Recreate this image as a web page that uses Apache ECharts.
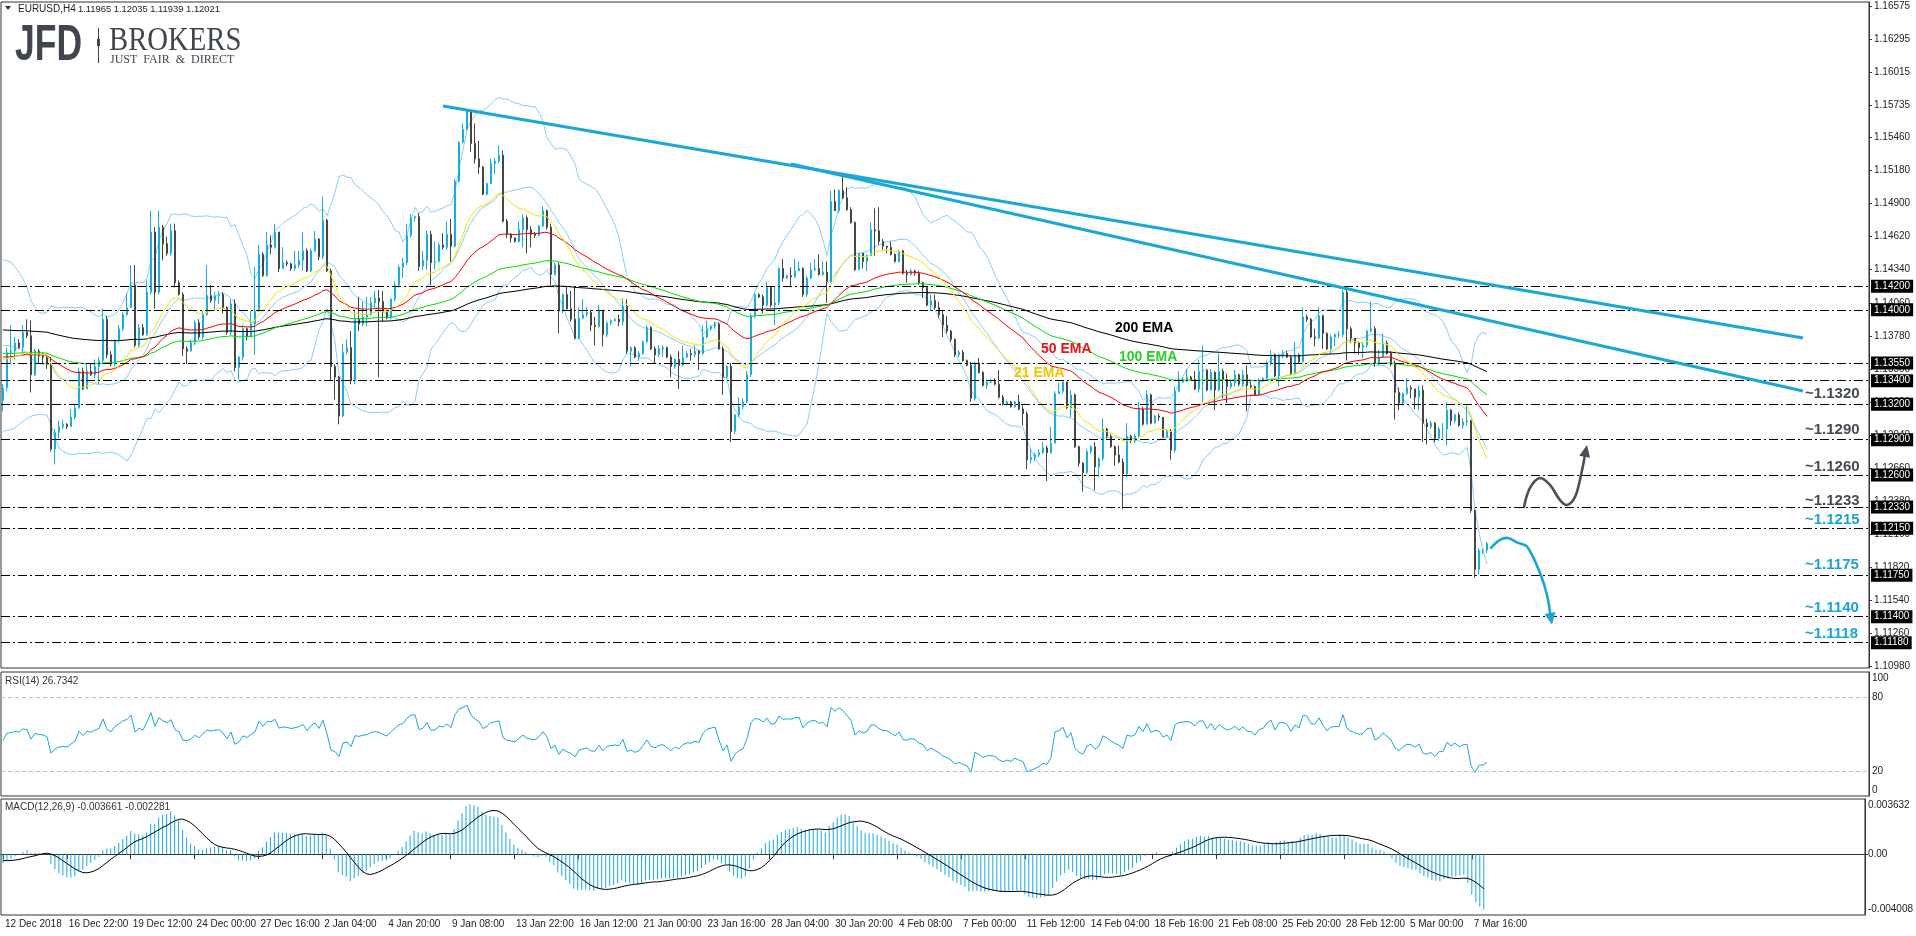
<!DOCTYPE html>
<html><head><meta charset="utf-8">
<script src="https://cdn.jsdelivr.net/npm/echarts@6/dist/echarts.min.js"></script>
<style>html,body{margin:0;padding:0;background:#fff;overflow:hidden}#chart{width:1916px;height:936px}</style>
</head><body><div id="chart"></div>
<script>
// ---------- data ----------
const tickLabels = ['12 Dec 2018','16 Dec 22:00','19 Dec 12:00','24 Dec 00:00','27 Dec 16:00','2 Jan 04:00','4 Jan 20:00','9 Jan 08:00','13 Jan 22:00','16 Jan 12:00','21 Jan 00:00','23 Jan 16:00','28 Jan 04:00','30 Jan 20:00','4 Feb 08:00','7 Feb 00:00','11 Feb 12:00','14 Feb 04:00','18 Feb 16:00','21 Feb 08:00','25 Feb 20:00','28 Feb 12:00','5 Mar 00:00','7 Mar 16:00'];
const barsPerLabel = 16;
const firstOpen = 1.1323;
const closes = [1.1334,1.1364,1.1365,1.1372,1.1368,1.1381,1.1378,1.1345,1.1365,1.1361,
1.1360,1.1354,1.1282,1.1296,1.1301,1.1303,1.1301,1.1309,1.1317,1.1348,
1.1333,1.1348,1.1345,1.1352,1.1357,1.1392,1.1362,1.1354,1.1374,1.1384,
1.1396,1.1402,1.1421,1.1370,1.1385,1.1379,1.1415,1.1466,1.1415,1.1470,
1.1456,1.1448,1.1467,1.1423,1.1413,1.1367,1.1365,1.1372,1.1389,1.1377,
1.1396,1.1412,1.1408,1.1412,1.1413,1.1402,1.1381,1.1405,1.1351,1.1360,
1.1384,1.1377,1.1388,1.1399,1.1447,1.1429,1.1455,1.1453,1.1466,1.1435,
1.1440,1.1439,1.1435,1.1438,1.1442,1.1450,1.1433,1.1450,1.1460,1.1445,
1.1476,1.1433,1.1352,1.1343,1.1310,1.1364,1.1368,1.1340,1.1392,1.1388,
1.1394,1.1396,1.1406,1.1410,1.1407,1.1399,1.1393,1.1409,1.1421,1.1436,
1.1440,1.1463,1.1478,1.1479,1.1437,1.1442,1.1464,1.1440,1.1441,1.1455,
1.1453,1.1464,1.1454,1.1509,1.1542,1.1553,1.1568,1.1541,1.1528,1.1521,
1.1498,1.1507,1.1524,1.1526,1.1531,1.1475,1.1464,1.1461,1.1458,1.1468,
1.1478,1.1468,1.1464,1.1463,1.1471,1.1484,1.1470,1.1430,1.1438,1.1399,
1.1413,1.1401,1.1392,1.1376,1.1393,1.1396,1.1398,1.1387,1.1386,1.1399,
1.1379,1.1389,1.1391,1.1392,1.1390,1.1403,1.1365,1.1368,1.1360,1.1363,
1.1373,1.1385,1.1367,1.1362,1.1367,1.1368,1.1360,1.1352,1.1358,1.1353,
1.1360,1.1363,1.1362,1.1365,1.1363,1.1377,1.1384,1.1386,1.1388,1.1367,
1.1343,1.1352,1.1297,1.1311,1.1318,1.1322,1.1345,1.1395,1.1413,1.1411,
1.1404,1.1419,1.1404,1.1406,1.1435,1.1427,1.1429,1.1428,1.1433,1.1435,
1.1413,1.1427,1.1434,1.1435,1.1430,1.1432,1.1424,1.1492,1.1484,1.1501,
1.1495,1.1485,1.1474,1.1434,1.1448,1.1441,1.1446,1.1468,1.1467,1.1458,
1.1454,1.1453,1.1447,1.1441,1.1450,1.1431,1.1430,1.1433,1.1431,1.1423,
1.1419,1.1404,1.1408,1.1402,1.1396,1.1387,1.1382,1.1375,1.1362,1.1364,
1.1357,1.1353,1.1325,1.1355,1.1347,1.1336,1.1339,1.1339,1.1337,1.1326,
1.1320,1.1322,1.1318,1.1322,1.1316,1.1312,1.1273,1.1275,1.1277,1.1279,
1.1283,1.1279,1.1287,1.1329,1.1331,1.1339,1.1317,1.1328,1.1284,1.1270,
1.1262,1.1280,1.1284,1.1267,1.1274,1.1299,1.1293,1.1284,1.1277,1.1271,
1.1261,1.1293,1.1289,1.1293,1.1316,1.1303,1.1328,1.1304,1.1310,1.1309,
1.1292,1.1297,1.1281,1.1331,1.1339,1.1341,1.1343,1.1341,1.1333,1.1348,
1.1349,1.1332,1.1347,1.1332,1.1348,1.1341,1.1335,1.1338,1.1345,1.1337,
1.1345,1.1336,1.1335,1.1328,1.1340,1.1342,1.1355,1.1362,1.1344,1.1362,
1.1363,1.1360,1.1346,1.1362,1.1356,1.1394,1.1392,1.1377,1.1376,1.1395,
1.1380,1.1367,1.1377,1.1379,1.1379,1.1415,1.1384,1.1376,1.1372,1.1368,
1.1370,1.1382,1.1384,1.1355,1.1360,1.1372,1.1363,1.1354,1.1330,1.1321,
1.1329,1.1334,1.1333,1.1326,1.1332,1.1304,1.1301,1.1304,1.1291,1.1299,
1.1299,1.1315,1.1306,1.1311,1.1302,1.1305,1.1306,1.1230,1.1180,1.1196,
1.11965,1.12021];
const highs = [1.1337,1.1368,1.1387,1.1377,1.1375,1.1387,1.1392,1.1391,1.1367,1.1367,
1.1364,1.1362,1.1360,1.1299,1.1306,1.1307,1.1304,1.1316,1.1320,1.1351,
1.1351,1.1355,1.1354,1.1358,1.1360,1.1401,1.1395,1.1365,1.1375,1.1387,
1.1398,1.1414,1.1438,1.1438,1.1388,1.1388,1.1425,1.1484,1.1470,1.1484,
1.1472,1.1462,1.1473,1.1473,1.1425,1.1415,1.1369,1.1375,1.1391,1.1392,
1.1399,1.1438,1.1421,1.1415,1.1416,1.1415,1.1403,1.1409,1.1409,1.1361,
1.1387,1.1385,1.1399,1.1436,1.1455,1.1449,1.1466,1.1463,1.1473,1.1466,
1.1453,1.1442,1.1440,1.1450,1.1450,1.1466,1.1452,1.1452,1.1467,1.1461,
1.1496,1.1477,1.1435,1.1354,1.1344,1.1371,1.1375,1.1382,1.1399,1.1411,
1.1407,1.1411,1.1411,1.1416,1.1417,1.1416,1.1400,1.1410,1.1424,1.1438,
1.1444,1.1473,1.1481,1.1480,1.1482,1.1450,1.1467,1.1467,1.1458,1.1457,
1.1465,1.1475,1.1477,1.1511,1.1543,1.1558,1.1569,1.1569,1.1558,1.1543,
1.1522,1.1508,1.1528,1.1529,1.1539,1.1535,1.1477,1.1465,1.1461,1.1475,
1.1481,1.1480,1.1471,1.1466,1.1472,1.1488,1.1485,1.1473,1.1440,1.1440,
1.1414,1.1420,1.1416,1.1420,1.1402,1.1409,1.1402,1.1400,1.1394,1.1404,
1.1400,1.1390,1.1392,1.1393,1.1396,1.1410,1.1409,1.1369,1.1369,1.1365,
1.1374,1.1387,1.1386,1.1369,1.1370,1.1370,1.1369,1.1362,1.1359,1.1365,
1.1370,1.1365,1.1367,1.1370,1.1366,1.1387,1.1391,1.1387,1.1390,1.1389,
1.1369,1.1353,1.1355,1.1312,1.1326,1.1325,1.1348,1.1397,1.1414,1.1414,
1.1413,1.1424,1.1420,1.1420,1.1436,1.1443,1.1430,1.1436,1.1443,1.1441,
1.1436,1.1429,1.1440,1.1443,1.1447,1.1441,1.1441,1.1501,1.1502,1.1502,
1.1514,1.1504,1.1487,1.1475,1.1448,1.1448,1.1447,1.1474,1.1486,1.1487,
1.1460,1.1454,1.1458,1.1448,1.1451,1.1451,1.1434,1.1435,1.1434,1.1433,
1.1424,1.1420,1.1413,1.1413,1.1407,1.1399,1.1395,1.1383,1.1376,1.1366,
1.1366,1.1358,1.1356,1.1356,1.1359,1.1348,1.1341,1.1342,1.1342,1.1349,
1.1328,1.1323,1.1323,1.1323,1.1328,1.1319,1.1314,1.1282,1.1279,1.1282,
1.1288,1.1285,1.1301,1.1331,1.1338,1.1339,1.1339,1.1332,1.1329,1.1285,
1.1271,1.1282,1.1285,1.1288,1.1275,1.1308,1.1300,1.1295,1.1285,1.1285,
1.1274,1.1304,1.1294,1.1295,1.1322,1.1318,1.1332,1.1329,1.1311,1.1312,
1.1309,1.1299,1.1299,1.1335,1.1348,1.1343,1.1350,1.1344,1.1348,1.1358,
1.1370,1.1350,1.1350,1.1348,1.1363,1.1350,1.1346,1.1340,1.1349,1.1346,
1.1349,1.1353,1.1339,1.1336,1.1342,1.1343,1.1357,1.1366,1.1363,1.1363,
1.1366,1.1365,1.1361,1.1373,1.1363,1.1402,1.1396,1.1393,1.1384,1.1402,
1.1396,1.1381,1.1379,1.1380,1.1382,1.1417,1.1419,1.1386,1.1376,1.1373,
1.1372,1.1383,1.1407,1.1386,1.1366,1.1380,1.1374,1.1365,1.1357,1.1334,
1.1330,1.1342,1.1336,1.1330,1.1336,1.1336,1.1308,1.1306,1.1305,1.1301,
1.1304,1.1322,1.1316,1.1312,1.1313,1.1308,1.1319,1.1307,1.1231,1.1198,
1.1197,1.12035];
const lows = [1.1314,1.1331,1.1354,1.1358,1.1367,1.1364,1.1376,1.1330,1.1344,1.1354,
1.1354,1.1350,1.1280,1.1269,1.1291,1.1299,1.1299,1.1301,1.1307,1.1316,
1.1332,1.1334,1.1344,1.1342,1.1337,1.1354,1.1359,1.1352,1.1352,1.1372,
1.1382,1.1395,1.1402,1.1368,1.1368,1.1378,1.1378,1.1413,1.1401,1.1413,
1.1442,1.1446,1.1446,1.1419,1.1412,1.1361,1.1354,1.1366,1.1370,1.1375,
1.1375,1.1395,1.1406,1.1399,1.1405,1.1397,1.1379,1.1379,1.1348,1.1341,
1.1357,1.1374,1.1377,1.1362,1.1398,1.1428,1.1428,1.1447,1.1452,1.1432,
1.1435,1.1437,1.1433,1.1433,1.1436,1.1433,1.1432,1.1432,1.1449,1.1442,
1.1443,1.1432,1.1340,1.1324,1.1303,1.1309,1.1362,1.1337,1.1337,1.1382,
1.1386,1.1386,1.1395,1.1402,1.1343,1.1390,1.1392,1.1392,1.1407,1.1419,
1.1427,1.1438,1.1461,1.1475,1.1433,1.1434,1.1434,1.1421,1.1434,1.1440,
1.1451,1.1451,1.1441,1.1453,1.1508,1.1541,1.1552,1.1534,1.1524,1.1515,
1.1497,1.1497,1.1507,1.1515,1.1524,1.1474,1.1461,1.1457,1.1457,1.1457,
1.1453,1.1448,1.1453,1.1461,1.1463,1.1470,1.1468,1.1421,1.1429,1.1380,
1.1397,1.1400,1.1390,1.1375,1.1375,1.1392,1.1394,1.1382,1.1370,1.1385,
1.1369,1.1377,1.1387,1.1390,1.1386,1.1387,1.1363,1.1352,1.1359,1.1357,
1.1362,1.1372,1.1366,1.1355,1.1360,1.1360,1.1359,1.1343,1.1350,1.1333,
1.1352,1.1359,1.1357,1.1360,1.1349,1.1362,1.1376,1.1382,1.1384,1.1366,
1.1328,1.1342,1.1288,1.1295,1.1309,1.1316,1.1321,1.1343,1.1393,1.1410,
1.1397,1.1403,1.1402,1.1387,1.1404,1.1424,1.1426,1.1419,1.1427,1.1433,
1.1411,1.1411,1.1426,1.1433,1.1429,1.1429,1.1406,1.1423,1.1484,1.1482,
1.1494,1.1484,1.1473,1.1433,1.1435,1.1435,1.1433,1.1446,1.1446,1.1455,
1.1451,1.1448,1.1446,1.1440,1.1440,1.1430,1.1423,1.1429,1.1429,1.1421,
1.1410,1.1403,1.1399,1.1400,1.1393,1.1377,1.1380,1.1373,1.1360,1.1360,
1.1356,1.1352,1.1322,1.1323,1.1346,1.1335,1.1333,1.1338,1.1336,1.1325,
1.1319,1.1319,1.1317,1.1317,1.1315,1.1302,1.1265,1.1270,1.1272,1.1275,
1.1278,1.1255,1.1278,1.1287,1.1329,1.1329,1.1316,1.1309,1.1283,1.1267,
1.1246,1.1261,1.1278,1.1247,1.1258,1.1272,1.1291,1.1283,1.1268,1.1270,
1.1231,1.1258,1.1287,1.1287,1.1291,1.1302,1.1303,1.1303,1.1304,1.1306,
1.1292,1.1292,1.1273,1.1279,1.1331,1.1338,1.1339,1.1340,1.1332,1.1330,
1.1322,1.1331,1.1345,1.1315,1.1331,1.1325,1.1321,1.1333,1.1335,1.1335,
1.1335,1.1314,1.1333,1.1327,1.1327,1.1339,1.1340,1.1353,1.1343,1.1335,
1.1359,1.1359,1.1345,1.1345,1.1355,1.1355,1.1390,1.1376,1.1369,1.1375,
1.1367,1.1366,1.1363,1.1369,1.1376,1.1377,1.1357,1.1372,1.1363,1.1362,
1.1359,1.1368,1.1381,1.1352,1.1353,1.1360,1.1362,1.1352,1.1307,1.1315,
1.1319,1.1328,1.1325,1.1316,1.1315,1.1288,1.1286,1.1299,1.1288,1.1289,
1.1291,1.1285,1.1302,1.1304,1.1301,1.1299,1.1302,1.1228,1.1173,1.1176,
1.1193,1.11939];

// indicator starting values read at the left edge of the picture
const ema21Start = 1.1358, ema50Start = 1.1360, ema100Start = 1.1363, ema200Start = 1.1383;
const bbUpperHead = [1.14424,1.14419,1.14404,1.14362,1.14319,1.14262,1.14192,1.14078,1.14021,1.13979,1.13970,1.13979,1.14035,1.14021,1.14016,1.14021,1.14021,1.14021,1.14016];
const bbLowerHead = [1.12971,1.12977,1.12985,1.12999,1.13028,1.13056,1.13079,1.13099,1.13107,1.13113,1.13113,1.13107,1.13028,1.12914,1.12829,1.12801,1.12787,1.12772,1.12778];
const rsiStartGain = 0.00085, rsiStartLoss = 0.00105;
const macdFastStart = 1.1350, macdSlowStart = 1.1356, macdSignalStart = -0.0004;

// levels and axis ticks
const levels = [1.1420,1.1400,1.1355,1.1340,1.1320,1.1290,1.1260,1.1233,1.1215,1.1175,1.1140,1.1118];
const lastPrice = 1.12021;
const priceTicks = [1.16575,1.16295,1.16015,1.15735,1.15460,1.15180,1.14900,1.14620,1.14340,1.14060,1.13780,1.13500,1.13220,1.12940,1.12660,1.12380,1.12100,1.11820,1.11540,1.11260,1.10980];
const rsiTicks = [0,20,80,100];
const macdTicks = [-0.004008,0,0.003632];
const trend1 = [[110,1.15728],[450,1.13762]];
const trend2 = [[197,1.15236],[450,1.13313]];
const grayPath = [[380.25,1.12330],[381.75,1.12491],[384.25,1.12575],[386.75,1.12516],[389.25,1.12388],[391,1.12347],[393,1.12414],[394.5,1.12601],[396,1.12855]];
const cyanPath = [[372,1.11983],[374.25,1.12050],[376.25,1.12067],[378.75,1.12025],[381,1.11994],[384.25,1.11770],[386,1.11584],[387.25,1.11331]];
const levelNotes = [['~1.1320',1.13287,'#454b55'],['~1.1290',1.12982,'#454b55'],['~1.1260',1.12669,'#454b55'],['~1.1233',1.12380,'#454b55'],['~1.1215',1.12219,'#1aa3d6'],['~1.1175',1.11838,'#1aa3d6'],['~1.1140',1.11474,'#1aa3d6'],['~1.1118',1.11254,'#1aa3d6']];
const emaNotes = [['200 EMA',278,1.13847,'#000000'],['100 EMA',279,1.13601,'#1ed41e'],['50 EMA',259.5,1.13669,'#e8141b'],['21 EMA',252.75,1.13466,'#f2c500']];

// ---------- derived series ----------
const nSlots = 467;
const nBars = closes.length;
const cats = Array.from({length:nSlots}, (_, i) => String(i));
const candles = closes.map((c, i) => {
  const o = i === 0 ? firstOpen : closes[i-1];
  return [o, c, Math.min(lows[i], o, c), Math.max(highs[i], o, c)];
});
function ema(period, start) {
  const k = 2/(period+1); let e = start; const out = [];
  for (let i = 0; i < nBars; i++) { if (i > 0) e += k*(closes[i]-e); out.push(+e.toFixed(6)); }
  return out;
}
const ema21 = ema(21, ema21Start), ema50 = ema(50, ema50Start), ema100 = ema(100, ema100Start), ema200 = ema(200, ema200Start);
const bbU = [], bbM = [], bbL = [];
for (let i = 0; i < nBars; i++) {
  if (i < 19) { bbU.push(bbUpperHead[i]); bbL.push(bbLowerHead[i]); bbM.push((bbUpperHead[i]+bbLowerHead[i])/2); continue; }
  const w = closes.slice(i-19, i+1); const m = w.reduce((a,b)=>a+b,0)/20;
  const sd = Math.sqrt(w.reduce((a,b)=>a+(b-m)*(b-m),0)/20);
  bbM.push(+m.toFixed(6)); bbU.push(+(m+2*sd).toFixed(6)); bbL.push(+(m-2*sd).toFixed(6));
}
const rsi = [];
{ let ag = rsiStartGain, al = rsiStartLoss;
  for (let i = 0; i < nBars; i++) {
    if (i > 0) { const ch = closes[i]-closes[i-1]; ag = (ag*13+Math.max(ch,0))/14; al = (al*13+Math.max(-ch,0))/14; }
    rsi.push(+(100-100/(1+ag/al)).toFixed(3));
  } }
const macd = [], signal = [];
{ let f = macdFastStart, s = macdSlowStart;
  for (let i = 0; i < nBars; i++) {
    if (i > 0) { f += (2/13)*(closes[i]-f); s += (2/27)*(closes[i]-s); }
    macd.push(+(f-s).toFixed(7));
  }
  for (let i = 0; i < nBars; i++) {
    let sum = 0; for (let j = i-8; j <= i; j++) sum += j >= 0 ? macd[j] : macdSignalStart;
    signal.push(+(sum/9).toFixed(7));
  } }

// ---------- chart ----------
const FONT = 'Liberation Sans';
const AX = '#333333';
const chart = echarts.init(document.getElementById('chart'), null, {renderer:'canvas', width:1916, height:936});
const isLabelIdx = (idx) => idx % barsPerLabel === 0 && idx/barsPerLabel < tickLabels.length;
const baseX = (gi, show) => ({
  type:'category', gridIndex:gi, data:cats, boundaryGap:true,
  axisLine:{show:show, lineStyle:{color:AX}},
  axisTick:{show:show, alignWithLabel:true, interval:(i)=>isLabelIdx(i), length:5, lineStyle:{color:AX}},
  axisLabel:{show:show, interval:(i)=>isLabelIdx(i), formatter:(v, idx)=>{ const n = Number(v); return isLabelIdx(n) ? tickLabels[n/barsPerLabel] : ''; },
    align:'left', margin:4, fontSize:10, color:'#222', fontFamily:FONT, padding:[0,0,0,2]},
  splitLine:{show:false}
});
const lineS = (data, color, z, w) => ({type:'line', xAxisIndex:0, yAxisIndex:0, data, showSymbol:false, symbol:'none', silent:true, lineStyle:{color, width:w||1}, z: z||4, animation:false});

const option = {
  animation:false,
  backgroundColor:'#ffffff',
  textStyle:{fontFamily:FONT},
  grid:[
    {left:1, top:2, width:1868, height:666, show:true, borderColor:AX, borderWidth:1},
    {left:1, top:672, width:1868, height:124, show:true, borderColor:AX, borderWidth:1},
    {left:1, top:799, width:1868, height:116, show:true, borderColor:AX, borderWidth:1}
  ],
  xAxis:[baseX(0,false), baseX(1,false), baseX(2,true)],
  yAxis:[
    {type:'value', gridIndex:0, position:'right', min:1.10965, max:1.16609, splitLine:{show:false},
     axisLine:{show:true, lineStyle:{color:AX}}, axisTick:{show:true, length:3, customValues:priceTicks, lineStyle:{color:AX}},
     axisLabel:{customValues:priceTicks, formatter:(v)=>Number(v).toFixed(5), fontSize:10, color:'#222', margin:5, fontFamily:FONT}},
    {type:'value', gridIndex:1, position:'right', min:0, max:100, splitLine:{show:false},
     axisLine:{show:true, lineStyle:{color:AX}}, axisTick:{show:false},
     axisLabel:{customValues:rsiTicks, margin:3, fontSize:10, color:'#222', fontFamily:FONT,
       formatter:(v)=> v===100 ? '{t|100}' : v===0 ? '{b|0}' : String(v),
       rich:{t:{padding:[12,0,0,0], fontSize:10, color:'#222'}, b:{padding:[0,0,12,0], fontSize:10, color:'#222'}}}},
    {type:'value', gridIndex:2, position:'right', min:-0.004008, max:0.003632, splitLine:{show:false},
     axisLine:{show:true, lineStyle:{color:AX}}, axisTick:{show:true, length:3, customValues:[0], lineStyle:{color:AX}},
     axisLabel:{customValues:macdTicks, margin:3, fontSize:10, color:'#222', fontFamily:FONT,
       formatter:(v)=> v===0 ? '0.00' : v>0 ? '{t|'+v.toFixed(6)+'}' : '{b|'+v.toFixed(6)+'}',
       rich:{t:{padding:[12,0,0,0], fontSize:10, color:'#222'}, b:{padding:[0,0,12,0], fontSize:10, color:'#222'}}}}
  ],
  series:[
    {type:'candlestick', name:'EURUSD', xAxisIndex:0, yAxisIndex:0, data:candles, barWidth:2, silent:true, z:3,
     itemStyle:{color:'#ffffff', color0:'#454545', borderColor:'#14aee0', borderColor0:'#454545', borderWidth:1},
     markLine:{silent:true, symbol:['none','none'], animation:false, precision:6,
       lineStyle:{color:'#000', width:1, type:[9,3,2,3]},
       label:{show:true, position:'end', distance:2, formatter:(p)=>Number(p.value).toFixed(5), color:'#fff', backgroundColor:'#000',
              padding:[2,3,1,3], fontSize:10, fontFamily:FONT},
       data: levels.map(v=>({yAxis:v})).concat([{yAxis:lastPrice, lineStyle:{opacity:0}, label:{backgroundColor:'#4d4d4d'}}])}},
    lineS(bbU, '#87cefa', 2), lineS(bbM, '#87cefa', 2), lineS(bbL, '#87cefa', 2),
    lineS(ema200, '#000000', 4), lineS(ema100, '#00e000', 4), lineS(ema50, '#ff0000', 4), lineS(ema21, '#f5e600', 4),
    lineS(trend1, '#19a7d8', 6, 3), lineS(trend2, '#19a7d8', 6, 3),
    {type:'line', xAxisIndex:1, yAxisIndex:1, data:rsi, showSymbol:false, symbol:'none', silent:true, lineStyle:{color:'#14a9dc', width:1},
     markLine:{silent:true, symbol:['none','none'], label:{show:false}, lineStyle:{color:'#c0c0c0', type:[4,3], width:1}, data:[{yAxis:80},{yAxis:20}]}},
    {type:'bar', xAxisIndex:2, yAxisIndex:2, data:macd, barWidth:1, silent:true, itemStyle:{color:'#14a9dc'}},
    {type:'line', xAxisIndex:2, yAxisIndex:2, data:signal, showSymbol:false, symbol:'none', silent:true, lineStyle:{color:'#000', width:1}, z:4}
  ]
};
chart.setOption(option);

// ---------- annotations (placed through the chart's own scales) ----------
function px(i, p) {
  const i0 = Math.floor(i), f = i - i0;
  const a = chart.convertToPixel({gridIndex:0}, [i0, p]);
  const b = chart.convertToPixel({gridIndex:0}, [i0+1, p]);
  return [a[0] + (b[0]-a[0])*f, a[1]];
}
function arrow(path, color) {
  const pts = path.map(([i,p]) => px(i,p));
  const tip = pts[pts.length-1], prev = pts[pts.length-2];
  let dx = tip[0]-prev[0], dy = tip[1]-prev[1]; const L = Math.hypot(dx,dy); dx/=L; dy/=L;
  const hl = 12, hw = 5.5;
  const base = [tip[0]-dx*hl, tip[1]-dy*hl];
  const linePts = pts.slice(0, -1).concat([[base[0]+dx*2, base[1]+dy*2]]);
  return [
    {type:'polyline', silent:true, z:100, shape:{points:linePts, smooth:0.35}, style:{stroke:color, lineWidth:2.6, fill:null, lineCap:'round'}},
    {type:'polygon', silent:true, z:100, shape:{points:[tip, [base[0]-dy*hw, base[1]+dx*hw], [base[0]+dy*hw, base[1]-dx*hw]]}, style:{fill:color}}
  ];
}
const g = [];
g.push(...arrow(grayPath, '#4b5058'));
g.push(...arrow(cyanPath, '#1aa3d6'));
levelNotes.forEach(([t, p, c]) => {
  const [x, y] = px(450.5, p);
  g.push({type:'text', silent:true, z:100, x:x, y:y, style:{text:t, fill:c, font:'bold 15px "Liberation Sans"', textVerticalAlign:'middle', verticalAlign:'middle'}});
});
emaNotes.forEach(([t, i, p, c]) => {
  const [x, y] = px(i, p);
  g.push({type:'text', silent:true, z:100, x:x, y:y, style:{text:t, fill:c, font:'bold 14px "Liberation Sans"', textVerticalAlign:'middle', verticalAlign:'middle'}});
});
// header & logo
g.push({type:'polygon', silent:true, z:100, shape:{points:[[5,6],[11,6],[8,10]]}, style:{fill:'#333'}});
g.push({type:'text', silent:true, z:100, x:18, y:9, style:{text:'EURUSD,H4', fill:'#222', font:'10px "Liberation Sans"', textVerticalAlign:'middle', verticalAlign:'middle'}});
g.push({type:'text', silent:true, z:100, x:78, y:9, style:{text:'1.11965 1.12035 1.11939 1.12021', fill:'#222', font:'9.4px "Liberation Sans"', textVerticalAlign:'middle', verticalAlign:'middle'}});
g.push({type:'text', silent:true, z:100, x:15, y:46, scaleX:0.71, style:{text:'JFD', fill:'#41464e', font:'bold 50px "Liberation Sans"', textVerticalAlign:'middle', verticalAlign:'middle'}});
g.push({type:'rect', silent:true, z:100, shape:{x:98, y:28, width:1, height:35}, style:{fill:'#41464e'}});
g.push({type:'rect', silent:true, z:100, shape:{x:97, y:39, width:3, height:7}, style:{fill:'#41464e'}});
g.push({type:'text', silent:true, z:100, x:109, y:41, scaleX:0.87, style:{text:'BROKERS', fill:'#41464e', font:'33px "Liberation Serif"', textVerticalAlign:'middle', verticalAlign:'middle'}});
g.push({type:'text', silent:true, z:100, x:110, y:60, style:{text:'JUST  FAIR  &  DIRECT', fill:'#41464e', font:'12px "Liberation Serif"', textVerticalAlign:'middle', verticalAlign:'middle'}});
// pane titles
g.push({type:'text', silent:true, z:100, x:5, y:681, style:{text:'RSI(14) 26.7342', fill:'#333', font:'10px "Liberation Sans"', textVerticalAlign:'middle', verticalAlign:'middle'}});
g.push({type:'text', silent:true, z:100, x:5, y:807, style:{text:'MACD(12,26,9) -0.003661 -0.002281', fill:'#333', font:'10px "Liberation Sans"', textVerticalAlign:'middle', verticalAlign:'middle'}});
chart.setOption({graphic:g});
</script>
</body></html>
